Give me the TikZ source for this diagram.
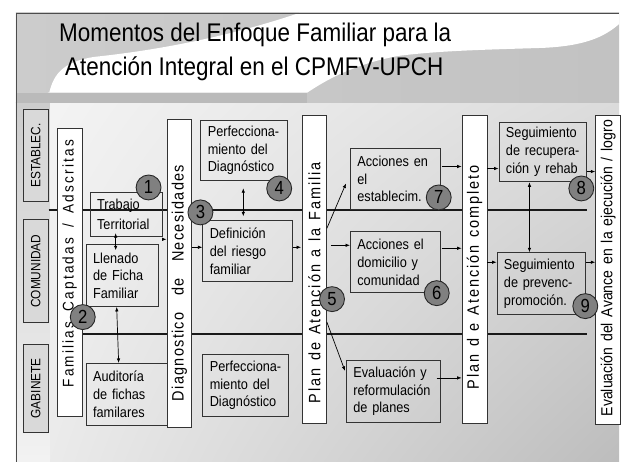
\documentclass[tikz,border=0pt]{standalone}
\usepackage{fontspec}
\setmainfont{Liberation Sans}[FakeStretch=0.88]
\usetikzlibrary{arrows.meta,shadings}
\pgfdeclarelayer{bg}
\pgfdeclarelayer{mid}
\pgfsetlayers{bg,mid,main}
\begin{document}
\begin{tikzpicture}[x=1pt,y=-1pt,
  arr/.style={-{Latex[length=4.5pt,width=3.5pt]}, line width=0.7pt},
  darr/.style={{Latex[length=4.5pt,width=3.5pt]}-{Latex[length=4.5pt,width=3.5pt]}, line width=0.7pt},
  sbox/.style={draw=black!80, line width=0.8pt, inner xsep=7pt, inner ysep=0pt, align=left, anchor=north west, font=\fontsize{14.5}{17.8}\selectfont},
  vbox/.style={draw=black!80, fill=white, line width=0.8pt, inner sep=0pt, anchor=north west},
  lbox/.style={draw=black!80, fill=black!15, line width=0.8pt, inner sep=0pt, anchor=north west, font=\fontsize{13.5}{13.5}\selectfont},
  num/.style={circle, draw=black!85, fill=black!50, line width=0.9pt, minimum size=25pt, inner sep=0pt, font=\fontsize{19}{19}\selectfont},
  sepline/.style={line width=1.8pt, black!90},
  ttl/.style={anchor=base, font=\fontsize{25.6}{30}\selectfont}]

% ---------- background ----------
\begin{pgfonlayer}{bg}
\fill[white] (0,0) rectangle (621,463);
\shade[upper left=black!4, upper right=black!14, lower left=black!7, lower right=black!26] (16,103) rectangle (621,463);
\shade[top color=black!20, bottom color=black!5] (16,103) rectangle (50,463);
\shade[left color=black!20, right color=black!24] (16,13) rectangle (621,103);
\fill[white] (48,100) .. controls (52,75) and (62,62) .. (95,57) .. controls (180,48) and (250,30) .. (300,13) -- (621,13) -- (621,24) .. controls (605,38) and (585,46) .. (545,48) .. controls (480,50) and (440,51) .. (400,56) .. controls (350,65) and (320,85) .. (308,93) -- (48,93) -- cycle;
\fill[black!27] (16,93) rectangle (308,103);
\draw[black!70, line width=0.8pt] (16,463) -- (16,13) -- (621,13);
\end{pgfonlayer}

% ---------- title ----------
\node[ttl] (t1) at (256,42) {Momentos del Enfoque Familiar para la};
\node[ttl] (t2) at (255,76) {Atención Integral en el CPMFV-UPCH};

% ---------- level labels ----------
\node[lbox, minimum width=25pt, minimum height=93pt] (estab) at (23,109) {\rotatebox{90}{ESTABLEC.}};
\node[lbox, minimum width=25pt, minimum height=103pt] (comun) at (23,220) {\rotatebox{90}{COMUNIDAD}};
\node[lbox, minimum width=25pt, minimum height=88pt] (gabin) at (23,345) {\rotatebox{90}{GABINETE}};

% ---------- vertical stage boxes ----------
\node[vbox, minimum width=25pt, minimum height=289pt] (fam) at (57,128)
  {\rotatebox{90}{\makebox[289pt][l]{\hspace{29pt}\makebox[248pt][s]{\fontsize{15.5}{15.5}\selectfont\addfontfeature{LetterSpace=14}Familias Captadas / Adscritas}}}};
\node[vbox, minimum width=25pt, minimum height=309pt] (diag) at (167,119)
  {\rotatebox{90}{\makebox[309pt][l]{\hspace{26pt}\makebox[237pt][s]{\fontsize{16.5}{16.5}\selectfont\addfontfeature{LetterSpace=8}Diagnostico\hfill de\hfill Necesidades}}}};
\node[vbox, minimum width=24pt, minimum height=309pt] (plan) at (303,115)
  {\rotatebox{90}{\makebox[309pt][l]{\hspace{20pt}\makebox[242pt][s]{\fontsize{16.5}{16.5}\selectfont\addfontfeature{LetterSpace=12}Plan de Atención a la Familia}}}};
\node[vbox, minimum width=25pt, minimum height=309pt] (planc) at (463,115)
  {\rotatebox{90}{\makebox[309pt][l]{\hspace{34pt}\makebox[225pt][s]{\fontsize{16.5}{16.5}\selectfont\addfontfeature{LetterSpace=12}Plan d e Atención completo}}}};
\node[vbox, minimum width=25pt, minimum height=310pt] (eval) at (597,115)
  {\rotatebox{90}{\makebox[310pt][l]{\hspace{8pt}\makebox[297pt][s]{\fontsize{16}{16}\selectfont Evaluación del Avance en la ejecución / logro}}}};

% ---------- activity boxes ----------
\node[sbox, minimum width=72pt, text width=58pt, minimum height=44pt, font=\fontsize{14.5}{20}\selectfont] (trab) at (90,193) {Trabajo\\Territorial};
\node[sbox, minimum width=72pt, text width=58pt, minimum height=62pt] (llen) at (86,245) {Llenado\\de Ficha\\Familiar};
\node[sbox, minimum width=81pt, text width=67pt, minimum height=62pt] (aud) at (86,364) {Auditoría\\de fichas\\familares};
\node[sbox, minimum width=87pt, text width=73pt, minimum height=61pt] (perf1) at (201,120) {Perfecciona-\\miento del\\Diagnóstico};
\node[sbox, minimum width=90pt, text width=76pt, minimum height=61pt] (defi) at (203,221) {Definición\\del riesgo\\familiar};
\node[sbox, minimum width=86pt, text width=72pt, minimum height=62pt] (perf2) at (203,355) {Perfecciona-\\miento del\\Diagnóstico};
\node[sbox, minimum width=90pt, text width=76pt, minimum height=62pt] (acc1) at (351,148) {Acciones en\\el\\establecim.};
\node[sbox, minimum width=90pt, text width=76pt, minimum height=61pt] (acc2) at (351,232) {Acciones el\\domicilio y\\comunidad};
\node[sbox, minimum width=94pt, text width=80pt, minimum height=62pt] (evalp) at (347,361) {Evaluación y\\reformulación\\de planes};
\node[sbox, minimum width=88pt, text width=74pt, minimum height=60pt] (seg1) at (500,122) {Seguimiento\\de recupera-\\ción y rehab};
\node[sbox, minimum width=89pt, text width=75pt, minimum height=62pt] (seg2) at (498,253) {Seguimiento\\de prevenc-\\promoción.};

% ---------- level separator lines ----------
\begin{pgfonlayer}{mid}
\draw[sepline] (estab.east |- 0,211) -- (seg1.east |- 0,211);
\draw[sepline] (fam.east |- 0,335) -- (seg1.east |- 0,335);
\end{pgfonlayer}

% ---------- numbered circles ----------
\node[num] (n1) at (149,188) {1};
\node[num] (n2) at (83,318) {2};
\node[num] (n3) at (201,213) {3};
\node[num] (n4) at (280,189) {4};
\node[num] (n5) at (333,300) {5};
\node[num] (n6) at (438,294) {6};
\node[num] (n7) at (440,198) {7};
\node[num] (n8) at (583,189) {8};
\node[num] (n9) at (587,307) {9};

% ---------- connectors ----------
\draw[arr] (trab.east |- 0,240) -- (diag.west |- 0,240);
\draw[arr] (diag.east |- 0,248) -- (defi.west |- 0,248);
\draw[arr] (defi.east |- 0,248) -- ([xshift=-1pt]plan.west |- 0,248);
\draw[arr] (plan.east |- 0,229) -- ([xshift=-4pt]acc1.west |- 0,184);
\draw[arr] ([xshift=4pt]plan.east |- 0,246) -- (acc2.west |- 0,246);
\draw[arr] (plan.east |- 0,323) -- ([xshift=-1pt]evalp.west |- 0,372);
\draw[arr] ([xshift=1pt]acc1.east |- 0,167) -- (planc.west |- 0,167);
\draw[arr] ([xshift=1pt]acc2.east |- 0,249) -- (planc.west |- 0,249);
\draw[arr] ([xshift=-4pt]evalp.east |- 0,379) -- (planc.west |- 0,379);
\draw[arr] (planc.east |- 0,169) -- (seg1.west |- 0,169);
\draw[arr] (seg1.east |- 0,172) -- (eval.west |- 0,172);
\draw[arr] (planc.east |- 0,263) -- (seg2.west |- 0,263);
\draw[arr] (seg2.east |- 0,263) -- (eval.west |- 0,263);

\draw[darr] ([yshift=4pt]trab.south -| 116,0) -- ([yshift=-6pt]llen.north -| 116,0);
\draw[darr] (llen.south -| 117,0) -- (aud.north -| 119,0);
\draw[darr] ([yshift=-7pt]perf1.south -| 244,0) -- ([yshift=4pt]defi.north -| 244,0);
\draw[darr] (seg1.south -| 531,0) -- (seg2.north -| 531,0);
\end{tikzpicture}
\end{document}
